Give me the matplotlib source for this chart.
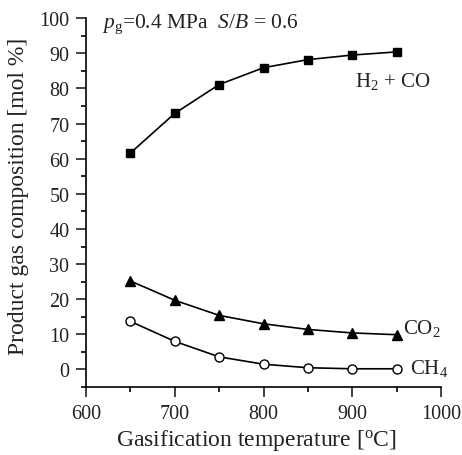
import numpy as np
import matplotlib.pyplot as plt
from matplotlib.ticker import MultipleLocator

plt.rcParams['font.family'] = 'Liberation Serif'
plt.rcParams['mathtext.fontset'] = 'custom'
plt.rcParams['mathtext.rm'] = 'Liberation Serif'
plt.rcParams['mathtext.it'] = 'Liberation Serif:italic'

# data
temperature = [650, 700, 750, 800, 850, 900, 950]
h2_co = [61.6, 72.9, 81.1, 85.9, 88.2, 89.5, 90.4]
co2 = [25.2, 19.7, 15.4, 13.0, 11.4, 10.4, 9.9]
ch4 = [13.7, 8.0, 3.6, 1.5, 0.5, 0.2, 0.2]

text_color = '#222222'

fig = plt.figure(figsize=(4.62, 4.56), dpi=100)
ax = fig.add_axes([0.186, 0.149, 0.769, 0.809])

ax.plot(temperature, h2_co, 'k-', marker='s', markersize=6, linewidth=1.2)
ax.plot(temperature, co2, 'k-', marker='^', markersize=7, linewidth=1.2)
ax.plot(temperature, ch4, 'k-', marker='o', markersize=6.5, linewidth=1.2,
        markerfacecolor='white', markeredgewidth=1.0)

ax.set_xlim(600, 1000)
ax.set_ylim(-5, 100)
ax.spines['top'].set_visible(False)
ax.spines['right'].set_visible(False)
ax.spines['left'].set_linewidth(1.2)
ax.spines['bottom'].set_linewidth(1.2)

ax.xaxis.set_major_locator(MultipleLocator(100))
ax.xaxis.set_minor_locator(MultipleLocator(50))
ax.set_yticks(np.arange(0, 101, 10))
ax.yaxis.set_minor_locator(MultipleLocator(5))
ax.tick_params(which='major', direction='out', length=7, width=1.2, labelsize=14.5,
               colors=text_color, pad=5)
ax.tick_params(which='minor', direction='out', length=3.5, width=1.2)

ax.set_xlabel('Gasification temperature [$^{\\rm o}$C]', fontsize=17, color=text_color,
              va='center')
ax.xaxis.set_label_coords(0.48, -0.141)
ax.set_ylabel('Product gas composition [mol %]', fontsize=17, color=text_color,
              va='center')
ax.yaxis.set_label_coords(-0.189, 0.52)

ax.text(618, 97.4, '$p_{\\rm g}$=0.4 MPa  $S/B$ = 0.6', fontsize=15.5,
        va='baseline', ha='left', color=text_color)
ax.text(903, 80.6, 'H$_2$ + CO', fontsize=15, va='baseline', ha='left', color=text_color)
ax.text(957, 10.5, 'CO$_2$', fontsize=15, va='baseline', ha='left', color=text_color)
ax.text(965, -1.1, 'CH$_4$', fontsize=15, va='baseline', ha='left', color=text_color)

fig.savefig('out.png', dpi=100)
